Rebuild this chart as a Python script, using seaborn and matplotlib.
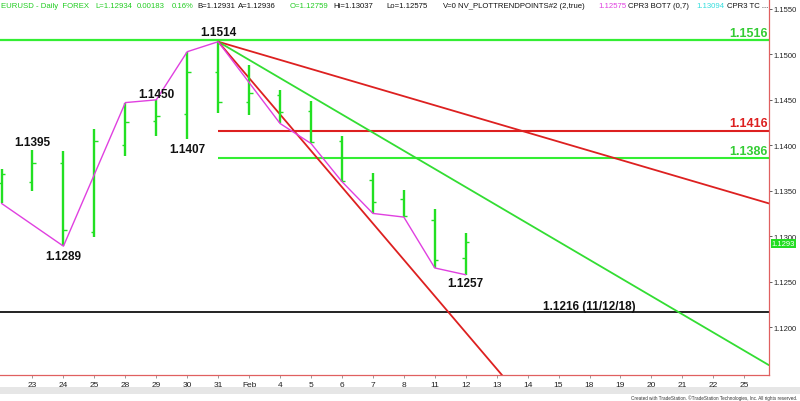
import matplotlib
matplotlib.use("Agg")
import matplotlib.pyplot as plt
import seaborn as sns
import pandas as pd
import numpy as np
from matplotlib.patches import Rectangle

# Daily EURUSD bars, 22 Jan .. 12 Feb 2019
bar_idx = list(range(16))
opens = [1.1359, 1.1360, 1.1381, 1.1305, 1.1400, 1.1427, 1.1434, 1.1481,
         1.1448, 1.1455, 1.1438, 1.1405, 1.1362, 1.1341, 1.1318, 1.12759]
highs = [1.1374, 1.1395, 1.1394, 1.1418, 1.1447, 1.1450, 1.1503, 1.1514,
         1.1488, 1.1461, 1.1449, 1.1410, 1.1370, 1.1351, 1.1330, 1.13037]
lows = [1.1336, 1.1350, 1.1289, 1.1299, 1.1388, 1.1410, 1.1407, 1.1435,
        1.1433, 1.1424, 1.1402, 1.1360, 1.1325, 1.1321, 1.1265, 1.12575]
closes = [1.1368, 1.1381, 1.1307, 1.1405, 1.1426, 1.1432, 1.1481, 1.1448,
          1.1457, 1.1437, 1.1404, 1.1361, 1.1338, 1.1322, 1.1274, 1.12934]

# swing points (NV_PLOTTRENDPOINTS)
pivot_idx = [0, 2, 4, 5, 6, 7, 9, 10, 11, 12, 13, 14, 15]
pivot_val = [1.1336, 1.1289, 1.1447, 1.1450, 1.1503, 1.1514, 1.1424, 1.1402,
             1.1360, 1.1325, 1.1321, 1.1265, 1.12575]

tick_labels = ['23', '24', '25', '28', '29', '30', '31', 'Feb', '4', '5', '6', '7',
               '8', '11', '12', '13', '14', '15', '18', '19', '20', '21', '22', '25']

# fan from the 1.1514 top, price change per bar
fan_start = 7
fan_top = 1.1514
fan_slopes = [0.001, 0.002, 0.004]
fan_colors = ['#dd2020', '#33dd33', '#dd2020']

top_line = 1.1516
res_red = 1.1416
res_green = 1.1386
support = 1.1216
last_price = 1.12934

GREEN = '#22e022'
RED = '#dd2020'
MAGENTA = '#e040e0'

sns.set_theme(style='white')
plt.rcParams['font.family'] = ['Liberation Sans', 'DejaVu Sans']

fig = plt.figure(figsize=(8, 4.02), dpi=100)
ax = fig.add_axes([0, 1 - 376 / 402, 769 / 800, 376 / 402])
xmin, xmax = -0.05, 24.8
ax.set_xlim(xmin, xmax)
ax.set_ylim(1.11472, 1.15610)

# OHLC bars
x = np.array(bar_idx)
ax.vlines(x, lows, highs, color=GREEN, lw=1.7, zorder=3)
ax.hlines(opens, x - 0.11, x, color=GREEN, lw=1.0, zorder=3)
ax.hlines(closes, x, x + 0.11, color=GREEN, lw=1.0, zorder=3)

# horizontal levels
ax.hlines(top_line, xmin, xmax, color='#33ee33', lw=1.6, zorder=2)
ax.hlines(res_red, fan_start, xmax, color=RED, lw=1.5, zorder=2)
ax.hlines(res_green, fan_start, xmax, color='#33ee33', lw=1.5, zorder=2)
ax.hlines(support, xmin, xmax, color='#111111', lw=1.3, zorder=2)

# fan lines
for s, c in zip(fan_slopes, fan_colors):
    fx = np.array([fan_start, xmax])
    fan = pd.DataFrame({'x': fx, 'y': fan_top - s * (fx - fan_start)})
    sns.lineplot(data=fan, x='x', y='y', color=c, lw=1.3, ax=ax, zorder=2)

# swing line
piv = pd.DataFrame({'x': pivot_idx, 'y': pivot_val})
sns.lineplot(data=piv, x='x', y='y', color=MAGENTA, lw=1.0, ax=ax,
             estimator=None, sort=False, zorder=4)

lab = dict(fontsize=8.5, fontweight='bold', color='#111111', ha='center',
           textcoords='offset points', zorder=5)
ax.annotate('1.1395', (1, 1.1395), xytext=(0, 1.5), va='bottom', **lab)
ax.annotate('1.1289', (2, 1.1289), xytext=(0, -2.5), va='top', **lab)
ax.annotate('1.1450', (5, 1.1450), xytext=(0, 0), va='bottom', **lab)
ax.annotate('1.1407', (6, 1.1407), xytext=(0, -3), va='top', **lab)
ax.annotate('1.1514', (7, 1.1514), xytext=(0, 3), va='bottom', **lab)
ax.annotate('1.1257', (15, 1.12575), xytext=(0, -1.5), va='top', **lab)
ax.annotate('1.1216 (11/12/18)', (19, support), xytext=(0, 0.5), va='bottom', **lab)

rlab = dict(fontsize=9, fontweight='bold', ha='right', va='bottom',
            textcoords='offset points', zorder=5)
ax.annotate('%.4f' % top_line, (xmax - 0.05, top_line), xytext=(0, 1), color='#33cc33', **rlab)
ax.annotate('%.4f' % res_red, (xmax - 0.05, res_red), xytext=(0, 1), color=RED, **rlab)
ax.annotate('%.4f' % res_green, (xmax - 0.05, res_green), xytext=(0, 1), color='#33cc33', **rlab)

# axes styling
for side in ['top', 'left']:
    ax.spines[side].set_visible(False)
for side in ['right', 'bottom']:
    ax.spines[side].set_color('#e06060')
    ax.spines[side].set_linewidth(0.9)
ax.yaxis.tick_right()
yt = np.arange(1.120, 1.1551, 0.005)
ax.set_yticks(yt)
ax.set_yticklabels(['%.4f' % v for v in yt])
ax.tick_params(axis='y', which='both', right=True, length=2, width=0.6,
               pad=1.5, labelsize=5.5, color='#444444', labelcolor='#222222')
ax.set_xticks(range(1, 25))
ax.set_xticklabels(tick_labels)
ax.tick_params(axis='x', bottom=True, length=2, width=0.6, pad=2.5,
               labelsize=6, color='#888888', labelcolor='#222222')
ax.set_xlabel('')
ax.set_ylabel('')

ax.annotate('%.4f' % last_price, (1, last_price), xycoords=('axes fraction', 'data'),
            xytext=(2, -1), textcoords='offset points', ha='left', va='center',
            fontsize=5.5, color='white', annotation_clip=False, zorder=6,
            bbox=dict(boxstyle='square,pad=0.15', fc='#22dd22', ec='none'))

# header line, one piece per field
header = [
    (1, 'EURUSD - Daily  FOREX', '#22cc22'),
    (95, 'L=1.12934', '#22cc22'),
    (137, '0.00183', '#22cc22'),
    (172, '0.16%', '#22cc22'),
    (197, 'B=1.12931', '#111111'),
    (238, 'A=1.12936', '#111111'),
    (290, 'O=1.12759', '#22cc22'),
    (333, 'Hi=1.13037', '#111111'),
    (386, 'Lo=1.12575', '#111111'),
    (443, 'V=0', '#111111'),
    (458, 'NV_PLOTTRENDPOINTS#2 (2,true)', '#111111'),
    (598, '1.12575', MAGENTA),
    (628, 'CPR3 BOT7 (0,7)', '#111111'),
    (696, '1.13094', '#33dddd'),
    (727, 'CPR3 TC ...', '#111111'),
]
for px, t, c in header:
    fig.text(px / 800, 1 - 7 / 402, t, fontsize=5.6, color=c, va='center', ha='left')

# bottom scroll strip and credit
fig.patches.append(Rectangle((0, 1 - 395 / 402), 1, 7 / 402, transform=fig.transFigure,
                             fc='#e6e6e6', ec='none', zorder=0))
fig.text(797 / 800, 1 - 398.5 / 402,
         'Created with TradeStation. \u00a9TradeStation Technologies, Inc. All rights reserved.',
         fontsize=3.3, color='#333333', ha='right', va='center')

fig.savefig('out.png', dpi=100)
